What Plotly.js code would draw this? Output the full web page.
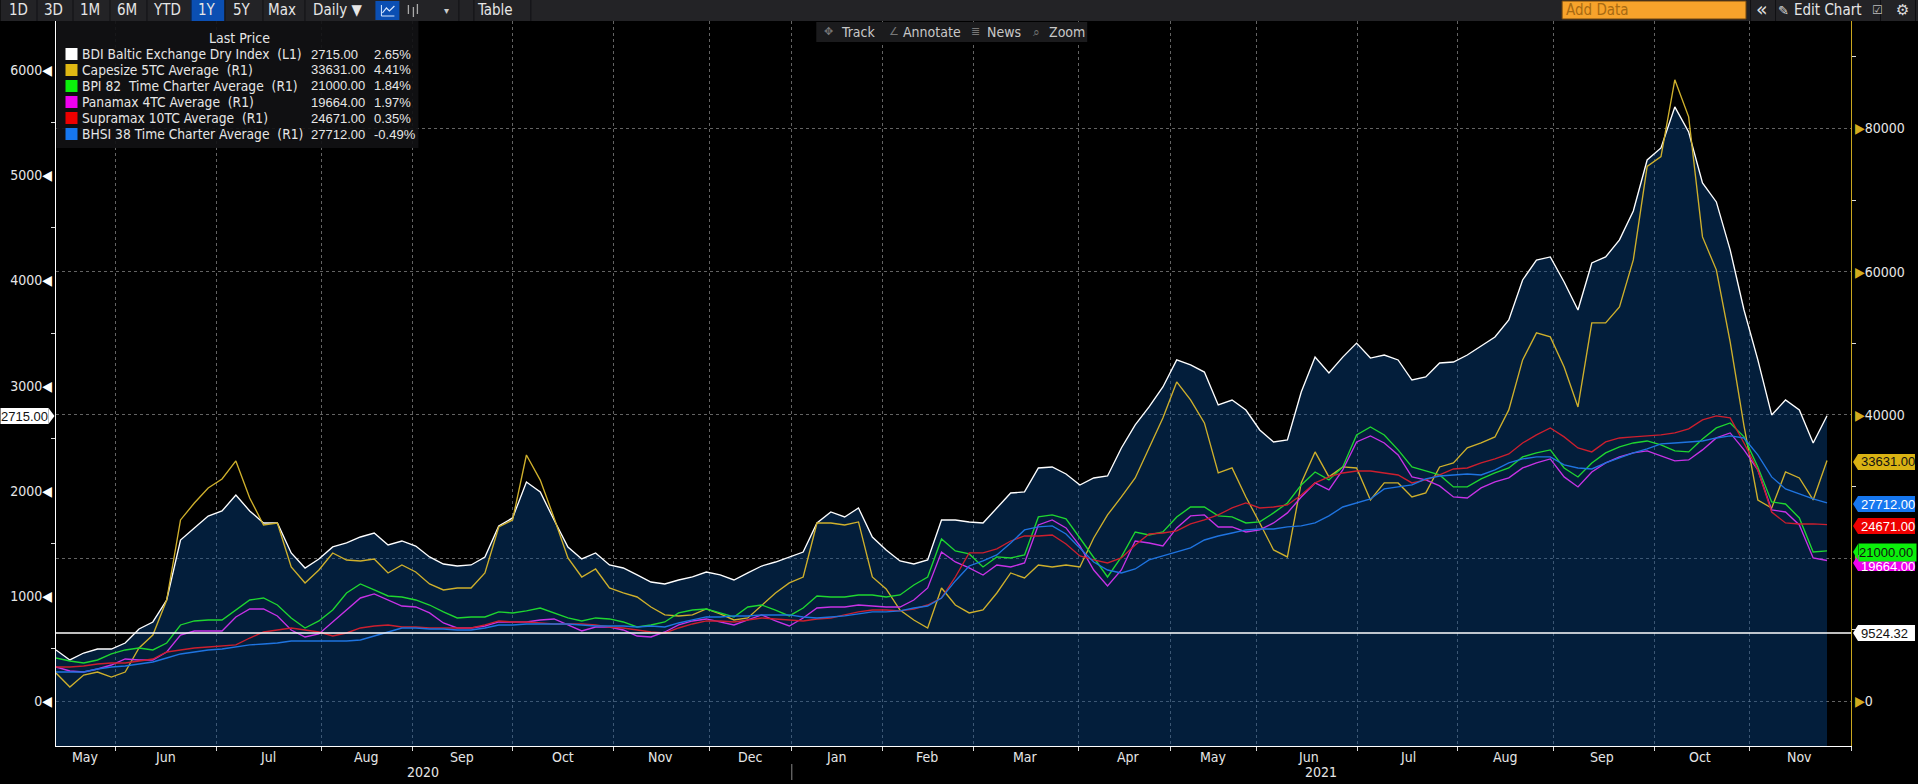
<!DOCTYPE html>
<html><head><meta charset="utf-8">
<script src="https://cdn.plot.ly/plotly-3.0.1.min.js"></script>
<style>html,body{margin:0;padding:0;background:#000;overflow:hidden}#c{width:1918px;height:784px}</style>
</head><body><div id="c"></div>
<script>
// Readings taken every third trading session, May 2020 - Nov 2021
const bdi=[488,393,459,497,497,554,687,754,963,1533,1647,1761,1809,1961,1809,1695,1695,1410,1267,1353,1467,1505,1562,1600,1486,1524,1476,1372,1305,1286,1296,1372,1666,1743,2085,1990,1723,1467,1353,1410,1296,1267,1201,1134,1115,1153,1182,1229,1201,1153,1220,1286,1324,1372,1419,1695,1800,1752,1837,1562,1438,1334,1305,1343,1723,1723,1704,1695,1837,1980,1990,2218,2227,2161,2056,2123,2142,2408,2627,2798,2988,3245,3197,3130,2817,2864,2769,2579,2465,2484,2940,3272,3121,3272,3405,3263,3292,3245,3054,3083,3216,3225,3292,3378,3463,3625,4005,4195,4224,3986,3720,4167,4224,4386,4661,5146,5260,5650,5412,4927,4747,4291,3720,3245,2722,2864,2769,2455,2715];
const capesize=[3950,2000,3670,4090,3390,4090,7450,9260,14150,25330,27700,29800,31050,33570,28400,24630,24900,18760,16530,18340,20710,19730,19600,19880,17920,19040,18060,16390,15550,15830,15830,17920,24350,25330,34400,30900,25600,20020,17360,18480,15830,15130,14570,13170,12060,11920,12060,12900,12200,11360,11640,13450,15130,16530,17360,24900,24900,24630,25050,17360,15690,12750,11360,10240,15830,13450,12340,12750,15130,17920,17220,19040,18760,19040,18760,22810,26030,28540,31200,35390,39580,44610,42090,38880,31890,32590,28540,24900,21140,20160,30500,34830,31340,32730,32590,28120,30500,30500,28540,29100,32730,33290,35390,36090,36920,40700,47680,51450,50890,46700,41110,52850,52850,55080,61650,74700,76090,86800,81630,64860,60260,50190,38460,28120,27000,32030,31190,28120,33631];
const bpi82=[6050,5630,5350,5770,6610,7170,7450,7170,8140,10660,11220,11360,11360,12750,14150,14430,13450,11640,10240,11220,12750,15130,16390,15550,14710,14570,14150,13450,12480,11640,11780,11780,12480,12340,12620,13030,12340,11640,11220,11640,11500,11080,10380,10660,11080,12340,12750,12890,12340,11780,13170,13450,12750,11920,13030,14710,14570,14570,14850,14850,14570,14850,16250,17360,22670,21000,20580,18760,20160,20020,20440,25750,26030,25470,22810,20160,17360,20160,23650,23230,23650,25750,27140,27140,25890,25750,24910,25050,26310,27700,30220,32030,30920,32730,37200,38320,37200,35110,32730,32170,31610,29940,29940,31060,31890,32590,34130,34690,35110,32590,31330,33290,34690,35530,36080,36360,35800,34970,34830,36640,38180,38880,36930,32730,27840,27560,25610,20860,21000];
const panamax=[4790,4230,4090,4510,5070,5910,5770,5770,6890,9260,9820,9820,9820,11780,12890,12890,11920,9960,8980,9400,11080,12750,14430,14990,14150,13310,13170,12340,10940,10240,10240,10520,11080,11080,11080,11360,11500,10660,9820,10380,10380,9960,9120,8980,9680,10660,11220,11500,11080,10660,11360,12060,11220,10520,11640,13030,13170,13170,13450,13310,13170,13170,14150,15830,20860,19460,18620,17640,19040,18760,19320,24630,25330,24210,21700,18340,16110,18340,22390,22110,21700,24210,25890,26030,24350,24350,23650,23930,24910,26310,28540,30500,29520,32310,36220,37060,36080,34410,31340,30920,30080,28540,28400,29800,30640,31200,32590,33290,33850,31340,29940,32030,33290,34130,34690,34970,34270,33570,33710,35110,36780,37480,35110,32310,26720,26440,24630,20020,19664];
const supramax=[4790,4790,4930,5210,5350,5350,5630,5910,6890,7170,7450,7590,7730,7870,8840,9680,9960,10240,9960,9680,9120,9540,10240,10520,10660,10380,10380,10240,10240,10240,10240,10660,11220,11080,11080,10940,10800,10800,10800,10660,10380,10240,9960,9680,9540,10240,10800,11220,11220,11080,11360,11640,11500,11360,11220,11500,11640,12060,12480,12750,12750,12620,12890,13450,14430,17360,20720,20720,21280,22390,23090,23090,23230,21970,20300,19740,19320,20020,21830,23370,23510,23790,24770,25330,26030,27000,27700,27000,27140,27420,28820,30500,31340,31890,32170,32170,31890,31610,30500,30920,31610,32450,32590,33290,33850,34550,36080,37200,38180,36930,35390,34830,36220,36780,36930,37060,37200,37480,38040,39300,39860,39580,36080,32310,26440,24910,24770,24770,24671];
const bhsi38=[4090,4090,4090,4510,4790,4930,5210,5490,6050,6610,6890,7170,7310,7590,7870,8000,8140,8420,8420,8420,8420,8420,8560,9120,9680,10240,10240,10100,10100,9960,9960,10240,10660,10660,10800,10800,10800,10800,10660,10520,10520,10520,10380,10520,10380,10940,11360,11780,11780,11920,11920,12060,12060,12060,11780,11640,11780,11920,12200,12480,12480,12620,13030,13310,14430,16810,18900,19600,20440,22110,23930,24350,24490,23370,21420,19460,18340,17920,18480,19740,20300,20860,21420,22530,23090,23510,23930,24070,24070,24350,24490,24910,25890,27140,27700,28260,29660,29940,30220,31060,31470,31610,31750,31610,32310,33290,33850,34130,34130,33010,32590,32450,33290,33990,34690,35250,35950,36080,36220,36360,36780,37060,36780,34410,31340,29660,28960,28260,27712];
const movingAverage=9524.32;
const sessionStep=3;
const monthStarts=[13.0,34.9,57.6,77.3,99.0,120.8,141.7,159.5,179.2,199.0,221.8,241.7,260.3,282.2,303.9,324.7,346.6,367.2];
const monthNames=["May","Jun","Jul","Aug","Sep","Oct","Nov","Dec","Jan","Feb","Mar","Apr","May","Jun","Jul","Aug","Sep","Oct","Nov"];
const legendNames=["BDI Baltic Exchange Dry Index  (L1)","Capesize 5TC Average  (R1)","BPI 82  Time Charter Average  (R1)","Panamax 4TC Average  (R1)","Supramax 10TC Average  (R1)","BHSI 38 Time Charter Average  (R1)"];
const lastPrices=["2715.00","33631.00","21000.00","19664.00","24671.00","27712.00"];
const pctChanges=["2.65%","4.41%","1.84%","1.97%","0.35%","-0.49%"];
const swatchColors=["#ffffff","#e0b813","#0bf00b","#f000f0","#ee0000","#1677f0"];
const lineColors=["#ffffff","#cfb02c","#1fd630","#c832e6","#cc1f2e","#1f74e0"];
const rangeButtons=["1D","3D","1M","6M","YTD","1Y","5Y","Max"];
const leftTicks=[0,1000,2000,3000,4000,5000,6000];
const leftMinor=[500,1500,2500,3500,4500,5500,6500];
const rightTicks=[0,20000,40000,60000,80000];
const rightMinor=[10000,30000,50000,70000,90000];

const W=1918,H=784,L=55.5,R=1851,T=21,B=746;
const FONT='"DejaVu Sans Condensed","Liberation Sans",sans-serif';
const NUM='"Liberation Sans",sans-serif';
const fx=p=>(p-L)/(R-L), fy=p=>(B-p)/(B-T);
const sessions=bdi.map((_,i)=>i*sessionStep);
const xEnd=389.2, leftMin=-425;
const floor=bdi.map(()=>leftMin);
const tr=(y,c,n,ax)=>({x:sessions,y,name:n,yaxis:ax,mode:'lines',line:{color:c,width:1.35,shape:'linear'},hoverinfo:'skip',showlegend:false});
const traces=[
 {x:sessions,y:floor,yaxis:'y',mode:'lines',line:{width:0,color:'rgba(0,0,0,0)'},hoverinfo:'skip',showlegend:false},
 Object.assign(tr(bdi,lineColors[0],legendNames[0],'y'),{fill:'tonexty',fillcolor:'rgba(8,72,140,0.42)'}),
 tr(capesize,lineColors[1],legendNames[1],'y2'),
 tr(bpi82,lineColors[2],legendNames[2],'y2'),
 tr(panamax,lineColors[3],legendNames[3],'y2'),
 tr(supramax,lineColors[4],legendNames[4],'y2'),
 tr(bhsi38,lineColors[5],legendNames[5],'y2'),
 {x:[0,xEnd],y:[movingAverage,movingAverage],yaxis:'y2',mode:'lines',line:{color:'#ffffff',width:1.5},hoverinfo:'skip',showlegend:false}
];

const ann=[], shp=[];
function text(px,py,t,o={}){ann.push({xref:'paper',yref:'paper',x:fx(px),y:fy(py),text:t,showarrow:false,xanchor:o.a||'center',yanchor:'middle',
  font:{family:o.f||FONT,size:o.s||14,color:o.c||'#e6e6e6'},borderpad:0});}
function rect(x0,y0,x1,y1,c,line){shp.push({type:'rect',xref:'paper',yref:'paper',x0:fx(x0),x1:fx(x1),y0:fy(y0),y1:fy(y1),fillcolor:c,line:line||{width:0},layer:'above'});}
function stroke(pts,c,w){shp.push({type:'path',xref:'paper',yref:'paper',path:pts.map((p,i)=>(i?'L ':'M ')+fx(p[0])+' '+fy(p[1])).join(' '),line:{color:c,width:w},layer:'above'});}

// toolbar
rect(0,0,W,21,'#232326');
rect(190,0,224,21,'#0b4fb3');
rect(375,1,399,20,'#0b4fb3');
[36,72,109,146,190,224,262,304,458,473,530,1750,1775,1880,1915].forEach(x=>rect(x,0,x+1,21,'#111114'));
const btnX=[18,53,90,127,167,207,242,282];
rangeButtons.forEach((b,i)=>text(btnX[i],10.5,b,{s:15}));
text(337,10.5,'Daily ▼',{s:15});
stroke([[381,5],[381,16],[394,16]],'#d8e8ff',1);
stroke([[382,13],[386,8],[389,11],[394,6]],'#d8e8ff',1.2);
stroke([[408,5],[408,14]],'#aaa',1.3);stroke([[413,7],[413,17]],'#aaa',1.3);stroke([[417,4],[417,14]],'#aaa',1.3);
text(446,10.5,'▾',{s:10,c:'#ccc',f:'DejaVu Sans'});
text(495,10.5,'Table',{s:15});
rect(1562,1,1746,19,'#f7a32b',{width:1,color:'#6b4310'});
text(1565,10.5,'Add Data',{a:'left',s:15,c:'#a86a12'});
text(1762,9.5,'«',{s:19,c:'#ddd',f:'DejaVu Sans'});
text(1783,10.5,'✎',{s:13,c:'#ddd',f:'DejaVu Sans'});
text(1828,10.5,'Edit Chart',{s:15});
text(1878,10.5,'☑',{s:12,c:'#bbb',f:'DejaVu Sans'});
text(1903,10.5,'⚙',{s:15,c:'#ddd',f:'DejaVu Sans'});

// track bar
rect(816,22,1087,42,'#1b1b1d');
text(828,32,'✥',{s:11,c:'#777',f:'DejaVu Sans'});text(858,32,'Track',{s:14,c:'#c8c8c8'});
text(894,32,'∠',{s:11,c:'#777',f:'DejaVu Sans'});text(932,32,'Annotate',{s:14,c:'#c8c8c8'});
text(975,32,'≣',{s:11,c:'#777',f:'DejaVu Sans'});text(1004,32,'News',{s:14,c:'#c8c8c8'});
text(1036,32,'⌕',{s:12,c:'#777',f:'DejaVu Sans'});text(1067,32,'Zoom',{s:14,c:'#c8c8c8'});

// legend panel
rect(56,21,418,148,'rgba(17,17,19,0.92)');
text(239,38,'Last Price',{s:14});
legendNames.forEach((n,i)=>{
  const y=54+16*i;
  rect(65,y-6,77,y+6,swatchColors[i]);
  text(81,y,n,{a:'left',s:13.7});
  text(310,y,lastPrices[i],{a:'left',s:13,f:NUM});
  text(373,y,pctChanges[i],{a:'left',s:13,f:NUM});
});

// axis labels
const monthPx=[85,165,268,366,462,563,660.5,750,835.5,927,1025,1128,1213,1308,1408,1505,1602,1700,1799];
monthNames.forEach((m,i)=>text(monthPx[i],757,m,{s:14}));
text(423,772,'2020',{s:14});text(1321,772,'2021',{s:14});
rect(791,764,792,780,'#888');

// price flags
function flag(center,label,bg,fg,x0=1858){
  rect(x0,center-8,1915,center+8,bg);
  shp.push({type:'path',xref:'paper',yref:'paper',path:`M ${fx(1853)} ${fy(center)} L ${fx(x0)} ${fy(center-8)} L ${fx(x0)} ${fy(center+8)} Z`,fillcolor:bg,line:{width:0},layer:'above'});
  text(1860,center,label,{a:'left',s:13,c:fg,f:NUM});
}
flag(462,lastPrices[1],'#d9b213','#111111');
flag(504,lastPrices[5],swatchColors[5],'#ffffff');
flag(526,lastPrices[4],swatchColors[4],'#ffffff');
// the Panamax flag sits partly under the BPI flag, as in the source screen
rect(1858,555,1915,571,swatchColors[3]);
shp.push({type:'path',xref:'paper',yref:'paper',path:`M ${fx(1853)} ${fy(563)} L ${fx(1858)} ${fy(555)} L ${fx(1858)} ${fy(571)} Z`,fillcolor:swatchColors[3],line:{width:0},layer:'above'});
text(1860,566,lastPrices[3],{a:'left',s:13,c:'#ffffff',f:NUM});
ann.push({xref:'paper',yref:'paper',x:fx(1858),y:fy(552),xanchor:'left',yanchor:'middle',text:lastPrices[2]+'  ',showarrow:false,bgcolor:swatchColors[2],font:{family:NUM,size:13,color:'#111111'},width:57,height:17,borderpad:0,align:'left'});
shp.push({type:'path',xref:'paper',yref:'paper',path:`M ${fx(1853)} ${fy(552)} L ${fx(1858)} ${fy(544)} L ${fx(1858)} ${fy(560)} Z`,fillcolor:swatchColors[2],line:{width:0},layer:'above'});
flag(633,String(movingAverage),'#ffffff','#111111');
// left BDI flag
rect(0,408,48,424,'#ffffff');
shp.push({type:'path',xref:'paper',yref:'paper',path:`M ${fx(48)} ${fy(408)} L ${fx(54)} ${fy(416)} L ${fx(48)} ${fy(424)} Z`,fillcolor:'#ffffff',line:{width:0},layer:'above'});
text(24,416,lastPrices[0],{s:13,c:'#111111',f:NUM});

const grid='rgba(180,180,180,0.55)';
const layout={
 width:W,height:H,paper_bgcolor:'#000',plot_bgcolor:'#000',
 margin:{l:L,r:W-R,t:T,b:H-B,pad:0},showlegend:false,
 font:{family:FONT,color:'#e6e6e6',size:14},
 xaxis:{type:'linear',range:[0,xEnd],tickmode:'array',tickvals:monthStarts.concat([xEnd]),ticktext:monthStarts.map(()=>'').concat(['']),
   showgrid:true,gridcolor:grid,griddash:'dot',gridwidth:1,zeroline:false,ticks:'outside',ticklen:4,tickcolor:'#ddd',
   showline:true,linecolor:'#ffffff',linewidth:1.3,fixedrange:true},
 yaxis:{range:[leftMin,6467],tickmode:'array',tickvals:leftTicks,ticktext:leftTicks.map(v=>v+'<span style="color:#fff">◀</span>'),
   showgrid:false,zeroline:false,ticks:'',showline:true,linecolor:'#ffffff',linewidth:1.3,
   minor:{tickvals:leftMinor,ticks:'outside',ticklen:4,tickcolor:'#ddd',showgrid:false},
   tickfont:{family:FONT,size:14,color:'#e6e6e6'},fixedrange:true},
 yaxis2:{range:[-6243,95014],overlaying:'y',side:'right',tickmode:'array',tickvals:rightTicks,ticktext:rightTicks.map(v=>'<span style="color:#d2ac1e">▶</span>'+v),
   showgrid:true,gridcolor:grid,griddash:'dot',gridwidth:1,zeroline:false,ticks:'',showline:true,linecolor:'#c9a61e',linewidth:1.3,
   minor:{tickvals:rightMinor,ticks:'outside',ticklen:4,tickcolor:'#ddd',showgrid:false},
   tickfont:{family:FONT,size:14,color:'#e6e6e6'},fixedrange:true,anchor:'x'},
 shapes:shp,annotations:ann
};
Plotly.newPlot('c',traces,layout,{displayModeBar:false,staticPlot:true});
</script></body></html>
